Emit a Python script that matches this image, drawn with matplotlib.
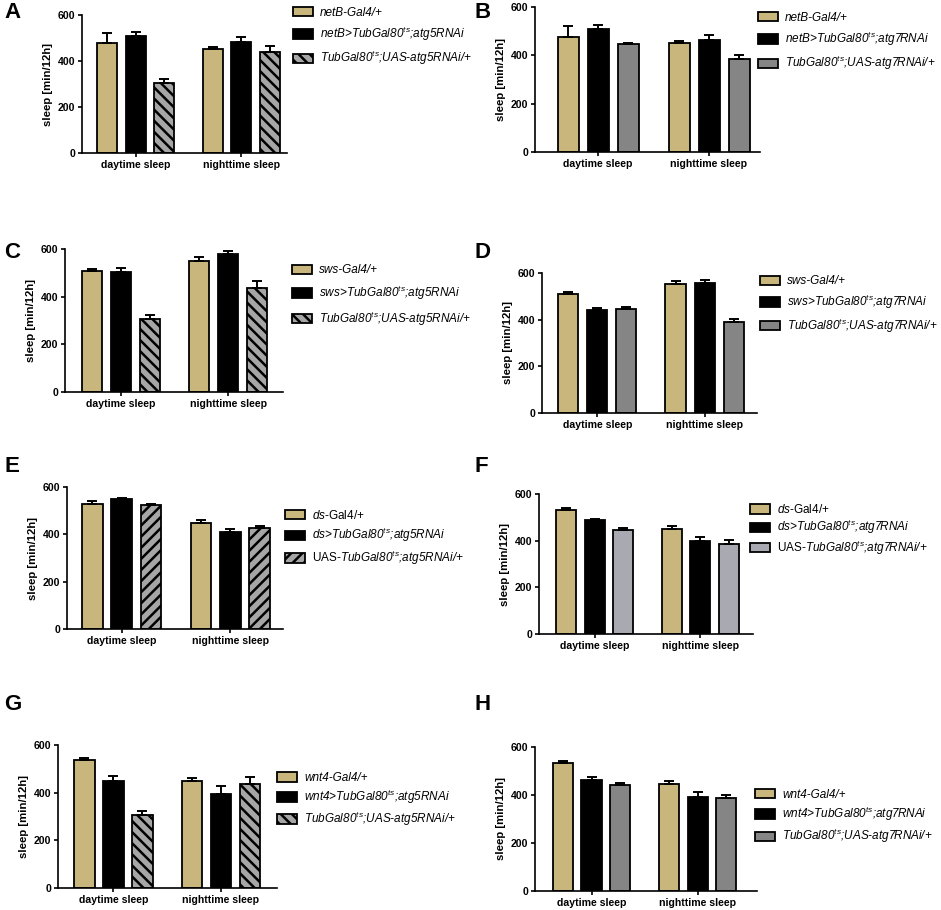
import matplotlib
matplotlib.use('Agg')
import matplotlib.pyplot as plt
import numpy as np
from matplotlib.patches import Patch

plt.rcParams['font.family'] = ['Liberation Sans', 'DejaVu Sans']
plt.rcParams['mathtext.fontset'] = 'custom'
plt.rcParams['mathtext.rm'] = 'Liberation Sans'
plt.rcParams['mathtext.it'] = 'Liberation Sans:italic'
plt.rcParams['mathtext.bf'] = 'Liberation Sans:bold'
plt.rcParams['hatch.linewidth'] = 1.8

# ---- data (sleep in min/12h, mean and upper SEM) ----
groups = ['daytime sleep', 'nighttime sleep']

A_mean = [[477, 451], [510, 481], [306, 437]]
A_err = [[45, 10], [14, 23], [17, 28]]
B_mean = [[476, 451], [510, 465], [446, 386]]
B_err = [[47, 8], [17, 21], [6, 14]]
C_mean = [[507, 551], [505, 581], [306, 437]]
C_err = [[7, 14], [16, 11], [16, 28]]
D_mean = [[509, 554], [443, 559], [447, 389]]
D_err = [[10, 13], [7, 10], [9, 14]]
E_mean = [[530, 448], [550, 411], [523, 427]]
E_err = [[10, 11], [4, 13], [7, 7]]
F_mean = [[532, 450], [489, 400], [447, 387]]
F_err = [[7, 11], [5, 15], [7, 14]]
G_mean = [[537, 447], [447, 393], [307, 438]]
G_err = [[7, 16], [23, 33], [18, 28]]
H_mean = [[535, 444], [461, 392], [443, 386]]
H_err = [[7, 14], [13, 21], [8, 15]]

A_labels = [r'netB-Gal4/+', r'netB>TubGal80$^{ts}$;atg5RNAi', r'TubGal80$^{ts}$;UAS-atg5RNAi/+']
B_labels = [r'netB-Gal4/+', r'netB>TubGal80$^{ts}$;atg7RNAi', r'TubGal80$^{ts}$;UAS-atg7RNAi/+']
C_labels = [r'sws-Gal4/+', r'sws>TubGal80$^{ts}$;atg5RNAi', r'TubGal80$^{ts}$;UAS-atg5RNAi/+']
D_labels = [r'sws-Gal4/+', r'sws>TubGal80$^{ts}$;atg7RNAi', r'TubGal80$^{ts}$;UAS-atg7RNAi/+']
E_labels = [r'$\mathit{ds}$-Gal4/+', r'ds>TubGal80$^{ts}$;atg5RNAi',
            r'$\text{UAS-}$TubGal80$^{ts}$;atg5RNAi/+']
F_labels = [r'$\mathit{ds}$-Gal4/+', r'ds>TubGal80$^{ts}$;atg7RNAi',
            r'$\text{UAS-}$TubGal80$^{ts}$;atg7RNAi/+']
G_labels = [r'wnt4-Gal4/+', r'wnt4>TubGal80$^{ts}$;atg5RNAi', r'TubGal80$^{ts}$;UAS-atg5RNAi/+']
H_labels = [r'wnt4-Gal4/+', r'wnt4>TubGal80$^{ts}$;atg7RNAi', r'TubGal80$^{ts}$;UAS-atg7RNAi/+']

TAN = '#C8B67C'
BLACK = '#000000'
GREY = '#858585'
LGREY = '#A9A9B1'
HGREY = '#A6A6A6'

# panel: letter, mean, err, labels, third colour, hatch, label styles,
# axes box in pixels (x0, x1, ytop, ybottom), xlim, legend (x, y middle), labelspacing
panels = [
    ('A', A_mean, A_err, A_labels, HGREY, '\\\\\\', ['italic'] * 3, (82, 287, 15, 153), (-1.89, 5.30), (293, 37), 0.53),
    ('B', B_mean, B_err, B_labels, GREY, None, ['italic'] * 3, (535, 760, 7, 152), (-2.1, 5.4), (758, 42), 0.53),
    ('C', C_mean, C_err, C_labels, HGREY, '\\\\\\', ['italic'] * 3, (65, 283, 249, 392), (-1.93, 5.59), (292, 296), 0.62),
    ('D', D_mean, D_err, D_labels, GREY, None, ['italic'] * 3, (542, 757, 273, 413), (-1.9, 5.5), (760, 305), 0.45),
    ('E', E_mean, E_err, E_labels, HGREY, '///', ['normal', 'italic', 'italic'], (67, 283, 487, 629), (-1.86, 5.49), (285, 538), 0.38),
    ('F', F_mean, F_err, F_labels, LGREY, None, ['normal', 'italic', 'italic'], (539, 753, 494, 634), (-1.96, 5.55), (750, 530), 0.18),
    ('G', G_mean, G_err, G_labels, HGREY, '\\\\\\', ['italic'] * 3, (58, 277, 745, 888), (-1.91, 5.64), (277, 800), 0.32),
    ('H', H_mean, H_err, H_labels, GREY, None, ['italic'] * 3, (535, 757, 747, 891), (-1.97, 5.77), (755, 817), 0.36),
]
letter_pos = {'A': (4, 13), 'B': (474, 13), 'C': (4, 252), 'D': (474, 253),
              'E': (4, 467), 'F': (474, 467), 'G': (4, 705), 'H': (474, 705)}

W, H = 941, 910
fig = plt.figure(figsize=(W / 100, H / 100), dpi=100)

centers = np.array([0.0, 3.7])
offsets = [-1.0, 0.0, 1.0]
bw = 0.7

for letter, mean, err, labels, c3, hatch, styles, box, xl, lg, lsp in panels:
    x0, x1, yt, yb = box
    ax = fig.add_axes([x0 / W, 1 - yb / H, (x1 - x0) / W, (yb - yt) / H])
    colors = [TAN, BLACK, c3]
    hatches = [None, None, hatch]
    handles = []
    for i in range(3):
        xs = centers + offsets[i]
        ax.bar(xs, mean[i], width=bw, color=colors[i], edgecolor='black',
               linewidth=1.3, hatch=hatches[i], zorder=2)
        ax.errorbar(xs, mean[i], yerr=[np.zeros(2), err[i]], fmt='none',
                    ecolor='black', elinewidth=1.4, capsize=3.8, capthick=1.4, zorder=3)
        handles.append(Patch(facecolor=colors[i], edgecolor='black', linewidth=1.3,
                             hatch=hatches[i]))
    ax.set_xlim(*xl)
    ax.set_ylim(0, 600)
    ax.set_yticks([0, 200, 400, 600])
    ax.set_yticklabels(['0', '200', '400', '600'], fontsize=7.6, fontweight='bold')
    ax.set_xticks(centers)
    ax.set_xticklabels(groups, fontsize=7.6, fontweight='bold')
    ax.tick_params(axis='both', width=1.2, length=3, pad=2)
    ax.set_ylabel('sleep [min/12h]', fontsize=8.2, fontweight='bold', labelpad=3)
    for s in ['top', 'right']:
        ax.spines[s].set_visible(False)
    for s in ['left', 'bottom']:
        ax.spines[s].set_linewidth(1.2)

    leg = ax.legend(handles, labels, loc='center left',
                    bbox_to_anchor=(lg[0] / W, 1 - lg[1] / H),
                    bbox_transform=fig.transFigure, frameon=False,
                    fontsize=8.5, handlelength=1.7, handleheight=0.85,
                    handletextpad=0.6, borderpad=0, borderaxespad=0,
                    labelspacing=lsp)
    for t, st in zip(leg.get_texts(), styles):
        t.set_fontstyle(st)

    lx, ly = letter_pos[letter]
    fig.text(lx / W, 1 - ly / H, letter, fontsize=16, fontweight='bold',
             ha='left', va='center')

fig.savefig('out.png', dpi=100)
